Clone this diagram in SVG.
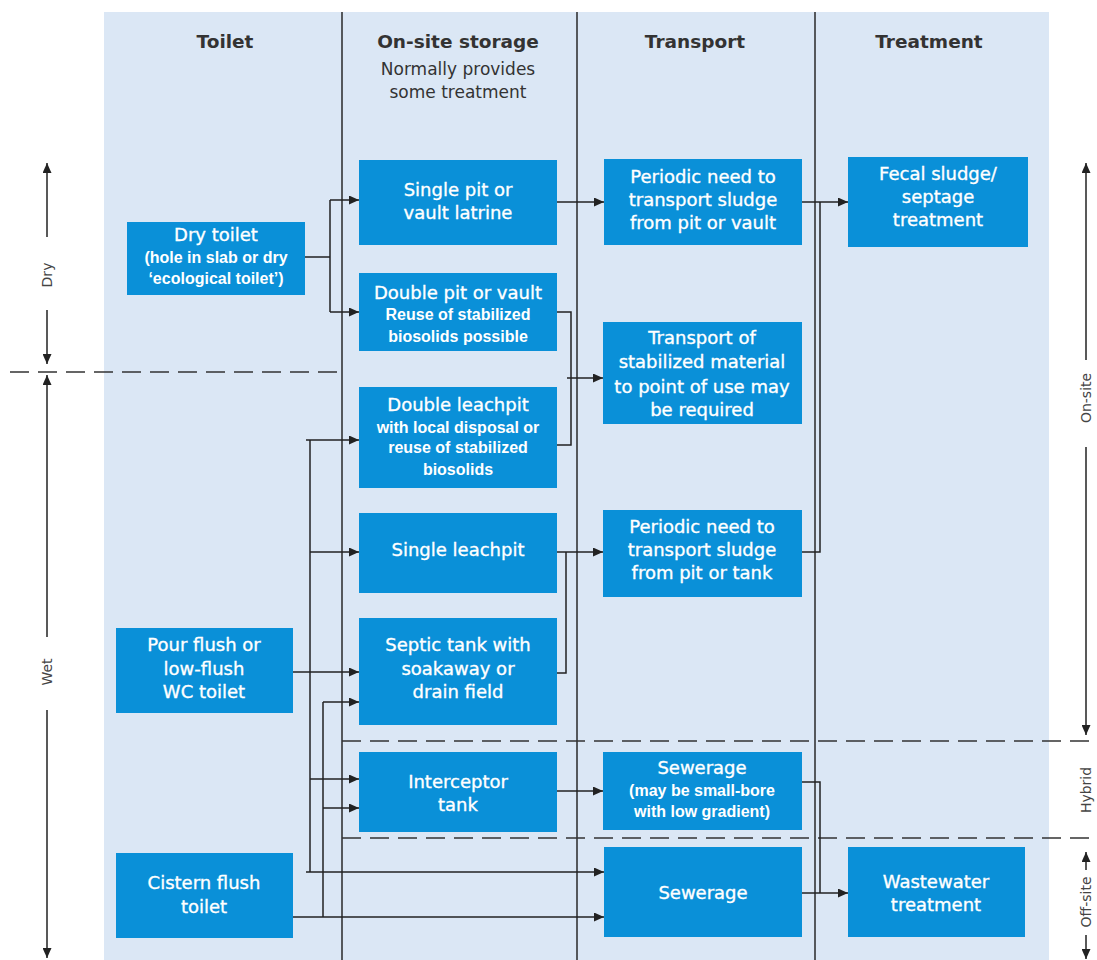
<svg xmlns="http://www.w3.org/2000/svg" width="1097" height="960" viewBox="0 0 1097 960">
<defs>
<marker id="ah" markerUnits="userSpaceOnUse" markerWidth="11" markerHeight="9" refX="10" refY="4.5" orient="auto">
<path d="M0,0 L10,4.5 L0,9 z" fill="#222"/>
</marker>
<style>
.panel{fill:#dbe7f5}
.div{stroke:#2a2a2a;stroke-width:1.5;fill:none}
.dash{stroke:#333;stroke-width:1.5;fill:none;stroke-dasharray:19 9}
.box{fill:#0a90d8}
.hd{font-family:"DejaVu Sans",sans-serif;font-size:18.5px;font-weight:bold;fill:#333;text-anchor:middle}
.sub{font-family:"DejaVu Sans",sans-serif;font-size:17px;fill:#333;text-anchor:middle}
.t{font-family:"DejaVu Sans",sans-serif;font-size:18px;fill:#fff;stroke:#fff;stroke-width:0.35;text-anchor:middle}
.s{font-family:"Liberation Sans",Arial,sans-serif;font-size:16px;font-weight:bold;fill:#fff;text-anchor:middle}
.ax{font-family:"DejaVu Sans",sans-serif;font-size:14px;fill:#444;text-anchor:middle}
.c{stroke:#222;stroke-width:1.5;fill:none}
.ca{stroke:#222;stroke-width:1.5;fill:none;marker-end:url(#ah)}
</style>
</defs>
<rect class="panel" x="104" y="12" width="945" height="948"/>
<g id="dividers">
<path class="div" d="M342,12 V960 M577,12 V960 M815,12 V960"/>
<path class="dash" d="M10,372 H342 M342,741 H1097 M342,838 H1097"/>
</g>
<g id="headers">
<text class="hd" x="225" y="48">Toilet</text>
<text class="hd" x="458" y="48">On-site storage</text>
<text class="sub" x="458" y="75">Normally provides</text>
<text class="sub" x="458" y="98">some treatment</text>
<text class="hd" x="695" y="48">Transport</text>
<text class="hd" x="929" y="48">Treatment</text>
</g>
<g id="axes">
<path class="ca" d="M47,237 V163"/>
<text class="ax" transform="translate(52,275) rotate(-90)">Dry</text>
<path class="ca" d="M47,310 V364"/>
<path class="ca" d="M47,637 V375"/>
<text class="ax" transform="translate(52,672) rotate(-90)">Wet</text>
<path class="ca" d="M47,710 V958"/>
<path class="ca" d="M1086,360 V163"/>
<text class="ax" transform="translate(1091,398) rotate(-90)">On-site</text>
<path class="ca" d="M1086,447 V735"/>
<text class="ax" transform="translate(1091,790) rotate(-90)">Hybrid</text>
<path class="ca" d="M1086,870 V852"/>
<text class="ax" transform="translate(1091,902) rotate(-90)">Off-site</text>
<path class="ca" d="M1086,935 V959"/>
</g>
<g id="connectors">
<path class="c" d="M305,257 H330 M330,200 V312"/>
<path class="ca" d="M330,200 H359"/>
<path class="ca" d="M330,312 H359"/>
<path class="ca" d="M557,202 H604"/>
<path class="ca" d="M802,202 H848"/>
<path class="c" d="M820,202 V552 H802"/>
<path class="c" d="M557,312 H571 V445 H557"/>
<path class="ca" d="M567,378 H603"/>
<path class="ca" d="M557,552 H603"/>
<path class="c" d="M557,673 H566 V552"/>
<path class="ca" d="M557,791 H603"/>
<path class="c" d="M802,782 H820 V893"/>
<path class="ca" d="M802,893 H848"/>
<path class="c" d="M310,440 V872"/>
<path class="ca" d="M306,440 H359"/>
<path class="ca" d="M310,552 H359"/>
<path class="ca" d="M293,672 H359"/>
<path class="ca" d="M310,779 H359"/>
<path class="ca" d="M306,872 H604"/>
<path class="ca" d="M293,917 H604"/>
<path class="c" d="M323,917 V702"/>
<path class="ca" d="M323,702 H359"/>
<path class="ca" d="M323,808 H359"/>
</g>
<g id="dry-toilet">
<rect class="box" x="127" y="222" width="178" height="73"/>
<text class="t" x="216" y="241">Dry toilet</text>
<text class="s" x="216" y="263">(hole in slab or dry</text>
<text class="s" x="216" y="284">‘ecological toilet’)</text>
</g>
<g id="pour-flush">
<rect class="box" x="116" y="628" width="177" height="85"/>
<text class="t" x="204" y="651">Pour flush or</text>
<text class="t" x="204" y="675">low-flush</text>
<text class="t" x="204" y="698">WC toilet</text>
</g>
<g id="cistern-flush">
<rect class="box" x="116" y="853" width="177" height="85"/>
<text class="t" x="204" y="889">Cistern flush</text>
<text class="t" x="204" y="913">toilet</text>
</g>
<g id="single-pit">
<rect class="box" x="359" y="160" width="198" height="85"/>
<text class="t" x="458" y="196">Single pit or</text>
<text class="t" x="458" y="219">vault latrine</text>
</g>
<g id="double-pit">
<rect class="box" x="359" y="273" width="198" height="78"/>
<text class="t" x="458" y="299">Double pit or vault</text>
<text class="s" x="458" y="320">Reuse of stabilized</text>
<text class="s" x="458" y="342">biosolids possible</text>
</g>
<g id="double-leachpit">
<rect class="box" x="359" y="387" width="198" height="101"/>
<text class="t" x="458" y="411">Double leachpit</text>
<text class="s" x="458" y="433">with local disposal or</text>
<text class="s" x="458" y="453">reuse of stabilized</text>
<text class="s" x="458" y="475">biosolids</text>
</g>
<g id="single-leachpit">
<rect class="box" x="359" y="513" width="198" height="80"/>
<text class="t" x="458" y="556">Single leachpit</text>
</g>
<g id="septic-tank">
<rect class="box" x="359" y="618" width="198" height="107"/>
<text class="t" x="458" y="651">Septic tank with</text>
<text class="t" x="458" y="675">soakaway or</text>
<text class="t" x="458" y="698">drain field</text>
</g>
<g id="interceptor-tank">
<rect class="box" x="359" y="752" width="198" height="80"/>
<text class="t" x="458" y="788">Interceptor</text>
<text class="t" x="458" y="811">tank</text>
</g>
<g id="periodic-vault">
<rect class="box" x="604" y="159" width="198" height="86"/>
<text class="t" x="703" y="183">Periodic need to</text>
<text class="t" x="703" y="206">transport sludge</text>
<text class="t" x="703" y="229">from pit or vault</text>
</g>
<g id="transport-stabilized">
<rect class="box" x="603" y="322" width="199" height="102"/>
<text class="t" x="702" y="344">Transport of</text>
<text class="t" x="702" y="368">stabilized material</text>
<text class="t" x="702" y="393">to point of use may</text>
<text class="t" x="702" y="416">be required</text>
</g>
<g id="periodic-tank">
<rect class="box" x="603" y="510" width="199" height="87"/>
<text class="t" x="702" y="533">Periodic need to</text>
<text class="t" x="702" y="556">transport sludge</text>
<text class="t" x="702" y="579">from pit or tank</text>
</g>
<g id="sewerage-hybrid">
<rect class="box" x="603" y="752" width="199" height="78"/>
<text class="t" x="702" y="774">Sewerage</text>
<text class="s" x="702" y="796">(may be small-bore</text>
<text class="s" x="702" y="817">with low gradient)</text>
</g>
<g id="sewerage-offsite">
<rect class="box" x="604" y="847" width="198" height="90"/>
<text class="t" x="703" y="899">Sewerage</text>
</g>
<g id="fecal-sludge">
<rect class="box" x="848" y="157" width="180" height="90"/>
<text class="t" x="938" y="180">Fecal sludge/</text>
<text class="t" x="938" y="203">septage</text>
<text class="t" x="938" y="226">treatment</text>
</g>
<g id="wastewater">
<rect class="box" x="848" y="847" width="177" height="90"/>
<text class="t" x="936" y="888">Wastewater</text>
<text class="t" x="936" y="911">treatment</text>
</g>
</svg>
